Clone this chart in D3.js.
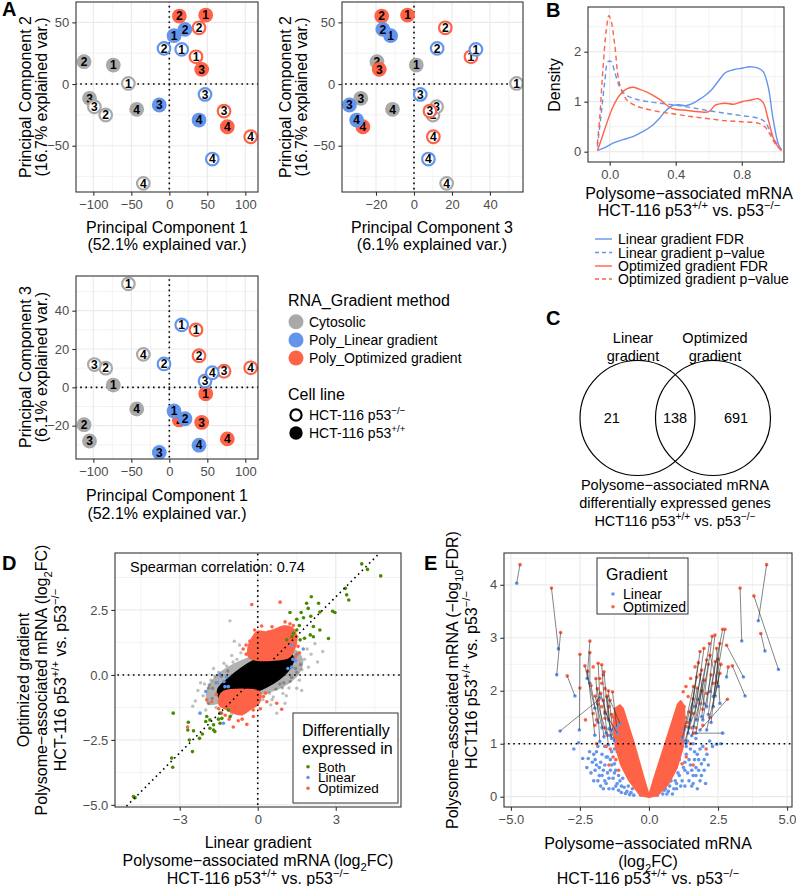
<!DOCTYPE html>
<html><head><meta charset="utf-8">
<script src="https://cdn.jsdelivr.net/npm/d3@7"></script>
<style>body{margin:0;background:#fff} svg text{font-family:"Liberation Sans",Arial,sans-serif}</style>
</head><body><svg id="c" width="796" height="886"></svg>
<script>
// ---------------- DATA ----------------
// Panel A: PCA scores
const pcaMethod = ["Cytosolic","Cytosolic","Cytosolic","Cytosolic","Cytosolic","Cytosolic","Cytosolic","Cytosolic",
  "Poly_Linear gradient","Poly_Linear gradient","Poly_Linear gradient","Poly_Linear gradient","Poly_Linear gradient","Poly_Linear gradient","Poly_Linear gradient","Poly_Linear gradient",
  "Poly_Optimized gradient","Poly_Optimized gradient","Poly_Optimized gradient","Poly_Optimized gradient","Poly_Optimized gradient","Poly_Optimized gradient","Poly_Optimized gradient","Poly_Optimized gradient"];
const pcaCell = ["wt","wt","wt","wt","ko","ko","ko","ko","wt","wt","wt","wt","ko","ko","ko","ko","wt","wt","wt","wt","ko","ko","ko","ko"];
const pcaRep = [1,2,3,4,1,2,3,4,1,2,3,4,1,2,3,4,1,2,3,4,1,2,3,4];
const pcaPC1 = [-73.7,-112.2,-105,-42.9,-53.9,-83.7,-98.6,-34.2, 6.2,20.6,-13.2,39.1,16.3,-7,47,56.6, 47.9,13.2,42.6,76.3,35.1,39.1,72,107.1];
const pcaPC2 = [15.4,18.1,-11.6,-20.5,0.5,-25.1,-18.4,-80.5, 39.2,44.3,-17,-29.2,28.1,28.9,-8.4,-60.8, 55.9,55.1,11.9,-34.6,22.1,45.6,-21.9,-42.7];
const pcaPC3 = [1.2,-19.5,-28,-11.3,54,10,11.9,17.2, -12.3,-16.4,-34,-30.2,32.6,12.2,3.3,7.6, -3.4,-17,-18.3,-26.9,30,16.5,8.4,10.2];
const methodLevels = ["Cytosolic","Poly_Linear gradient","Poly_Optimized gradient"];

// Panel B: densities
const linFdrX = [-0.075,-0.03,0.02,0.08,0.14,0.2,0.26,0.3,0.34,0.38,0.42,0.46,0.5,0.54,0.58,0.62,0.66,0.7,0.75,0.8,0.85,0.9,0.93,0.96,0.99,1.02,1.04];
const linFdrY = [0.02,0.08,0.17,0.24,0.3,0.4,0.53,0.66,0.82,0.92,0.94,0.92,0.96,1.04,1.13,1.25,1.42,1.58,1.64,1.67,1.7,1.67,1.6,1.3,0.65,0.17,0.03];
const linPX = [-0.075,-0.05,-0.03,-0.01,0.01,0.03,0.06,0.1,0.15,0.2,0.3,0.4,0.5,0.6,0.7,0.8,0.9,0.94,0.97,1.0,1.04];
const linPY = [0.1,0.8,1.4,1.8,1.8,1.6,1.3,1.13,1.06,1.02,0.97,0.93,0.88,0.82,0.77,0.72,0.67,0.6,0.42,0.22,0.04];
const optFdrX = [-0.075,-0.05,-0.02,0.02,0.06,0.1,0.14,0.18,0.22,0.3,0.38,0.46,0.54,0.6,0.64,0.7,0.75,0.8,0.85,0.9,0.93,0.96,1.0,1.04];
const optFdrY = [0.02,0.25,0.55,0.9,1.13,1.25,1.29,1.25,1.2,1.05,0.86,0.83,0.8,0.8,0.93,0.97,0.95,1.0,1.03,1.06,0.98,0.65,0.2,0.02];
const optPX = [-0.075,-0.06,-0.04,-0.02,-0.005,0.01,0.03,0.06,0.1,0.15,0.2,0.3,0.4,0.5,0.6,0.7,0.8,0.9,0.94,0.97,1.0,1.04];
const optPY = [0.15,0.7,1.7,2.45,2.72,2.6,2.15,1.35,1.05,0.93,0.87,0.8,0.75,0.7,0.66,0.62,0.6,0.57,0.5,0.35,0.17,0.03];
const bLegend = ["Linear gradient FDR","Linear gradient p\u2212value","Optimized gradient FDR","Optimized gradient p\u2212value"];

// Panel C: Venn counts
const vennCounts = [21,138,691];

// Panel D: scatter
const dBothX = [4.0,4.22,4.73,3.37,3.42,3.5,2.06,1.88,2.34,2.88,2.97,2.39,1.94,1.67,1.24,1.76,2.04,1.5,2.14,2.39,1.5,1.31,1.8,2.02,2.72,1.63,1.12,1.37,2.14,1.6,
  -3.25,-2.67,-2.69,-2.47,-2.63,-2.51,-2.24,-2.13,-2.0,-1.84,-1.7,-1.51,-1.45,-1.38,-1.06,-1.7,-1.84,-1.96,-1.65,-3.31,-3.27,-4.78,-4.72,-1.45,-1.13];
const dBothY = [4.27,4.06,3.81,3.33,3.08,2.88,3.01,2.76,2.76,2.45,2.4,2.42,2.56,2.4,2.4,2.2,2.26,2.14,1.86,1.73,1.73,1.47,1.41,1.54,1.4,1.35,1.35,1.6,1.47,1.9,
  -1.47,-1.82,-2.12,-2.15,-2.5,-2.95,-2.44,-2.27,-1.79,-1.73,-1.92,-1.7,-1.86,-1.67,-1.6,-2.12,-2.05,-1.6,-2.18,-3.2,-3.55,-4.68,-4.72,-1.47,-1.35];
const dLinX = [1.75,1.31,1.35,1.16,1.31,1.45,-1.45,-1.2,-1.26,-2.0,-2.22,-1.32,-1.13,-1.3,-1.55];
const dLinY = [1.0,1.15,0.6,0.25,0.3,0.55,0.01,-0.08,-0.45,-0.64,-1.47,-1.86,-0.45,-0.25,-0.3];
const dOptX = [-0.23,0.86,0.15,0.41,1.05,1.24,1.37,-0.56,-0.44,-0.12,0.79,1.5,0.55,-0.3,1.55,1.6,0.0,0.9,-0.45,1.45,
  -1.96,-1.77,-1.39,-0.94,-0.75,-0.42,-0.17,0.35,0.73,0.92,-2.7,0.22,-0.17,-1.6,-1.5,-1.1,0.3,-0.6,-1.25,0.1];
const dOptY = [2.71,2.8,1.88,1.65,2.04,1.97,1.9,1.0,0.8,1.73,1.54,1.47,1.85,1.3,1.1,0.85,1.55,1.8,1.15,0.7,
  -0.96,-1.03,-1.47,-2.0,-1.76,-1.9,-1.6,-1.03,-1.09,-1.32,-2.0,-0.83,-1.35,-0.75,-1.3,-1.7,-0.7,-1.7,-1.55,-1.3];
const dOtherX = [-1.07,-0.9,-0.7,-0.65,-0.8,-1.2,-1.5,-1.6,-1.9,-2.1,-1.9,-1.6,-1.8,-2.3,-1.3,-1.7,0.45,0.7,1.0,1.3,1.5,1.65,1.8,1.9,2.05,1.5,1.6,1.5,1.69,2.2,0.2,0.5,0.6,-1.0,-2.0,-2.4,2.3,0.97,1.05,0.73,-1.87,-1.74,-2.5,1.1,1.95,-1.0,-0.2,0.9,1.2,
  -1.55,-1.75,-2.05,-1.4,-1.15,0.85,1.25,1.45,1.7,1.35,-0.95,-1.25,0.55,0.95,-2.2,2.5,-1.65];
const dOtherY = [2.08,1.3,1.15,0.85,0.6,0.35,0.1,-0.3,-0.5,-0.8,-1.1,-1.25,-0.2,-0.6,0.45,0.25,-0.7,-0.55,-0.3,-0.1,0.1,0.4,0.6,1.0,0.8,0.8,-0.2,-0.51,-0.6,1.2,-0.95,-1.15,-0.85,-1.5,-1.35,-1.0,0.5,-0.71,-1.09,-1.47,-0.38,-0.51,-1.2,-0.8,0.3,0.75,-0.85,0.85,-0.5,
  -0.65,-0.9,-0.35,-0.05,0.15,-0.35,-0.25,0.25,0.2,0.55,0.5,-1.05,-0.95,-0.5,-0.3,0.9,-0.05];
const dHaloX = [-1.9,-1.3,-0.5,0.4,1.1,1.6,1.75,1.5,0.8,0.0,-0.8,-1.4,-1.9,-2.0];
const dHaloY = [-1.15,-1.05,-0.85,-0.7,-0.4,0.05,0.55,0.95,1.0,0.8,0.5,0.15,-0.4,-0.85];
const dCoreX = [-1.4,-0.9,-0.3,0.3,0.8,1.2,1.35,1.1,0.5,-0.1,-0.6,-1.1,-1.5];
const dCoreY = [-0.95,-0.85,-0.7,-0.45,-0.15,0.25,0.65,0.85,0.8,0.55,0.25,-0.15,-0.55];
const dOptUpX = [-0.3,1.15,1.3,1.45,1.45,1.3,1.0,0.6,0.3,0.0,-0.2,-0.35];
const dOptUpY = [0.68,0.68,0.85,1.2,1.55,1.8,1.85,1.7,1.62,1.65,1.4,1.0];
const dOptLoX = [-1.3,0.05,0.1,0.0,-0.3,-0.6,-0.9,-1.2,-1.45,-1.45];
const dOptLoY = [-0.66,-0.66,-0.8,-1.1,-1.3,-1.5,-1.45,-1.3,-1.15,-0.85];
const spearman = 0.74;
const dLegend = ["Both","Linear","Optimized"];

// Panel E: volcano (paired genes: same index = same gene)
const ePairLinX = [-4.79,-3.28,-3.34,-2.68,-3.22,-2.52,-2.24,-2.14,-1.96,-1.78,-1.59,-1.47,-1.32,-1.17,-1.05,-1.78,-1.63,-1.35,-1.96,-1.47,
  -1.25,-1.55,-1.15,-1.4,-1.85,-1.7,
  3.36,4.69,3.96,4.2,3.42,3.48,2.67,2.33,2.21,2.09,1.91,1.73,1.61,1.42,1.34,2.33,2.57,2.81,2.51,1.79,1.67,1.49,1.27,1.85,2.09,
  1.3,1.55,1.95,2.15,1.7,1.45,2.25,1.2,2.0,2.4];
const ePairLinY = [4.03,2.79,2.3,1.9,1.24,1.26,2.23,2.14,1.67,1.86,1.57,1.45,1.26,1.32,1.38,1.04,1.13,1.1,1.16,0.98,
  1.05,1.2,1.2,1.15,1.4,1.3,
  2.94,2.4,3.32,2.75,2.26,1.9,1.2,1.89,1.98,1.7,1.51,1.45,1.32,1.2,1.01,1.7,1.76,2.26,2.08,1.83,1.7,1.45,1.26,1.26,1.26,
  1.05,1.15,1.45,1.55,1.2,1.3,1.4,1.1,1.75,1.9];
const ePairOptX = [-4.67,-3.53,-3.2,-2.96,-1.84,-2.5,-2.14,-2.14,-2.32,-1.84,-1.71,-1.63,-1.47,-1.32,-1.41,-1.92,-1.87,-1.53,-2.22,-1.66,
  -1.75,-1.85,-1.6,-1.5,-2.1,-1.95,
  3.3,3.8,4.26,4.05,2.81,3.02,1.61,2.75,2.67,2.39,2.29,2.19,1.99,1.85,1.79,2.57,2.45,2.87,2.21,2.09,1.91,1.73,1.61,2.84,2.57,
  1.9,2.0,2.25,2.4,2.15,1.75,2.5,1.6,1.85,2.6];
const ePairOptY = [4.38,3.94,3.1,2.28,1.82,2.69,2.94,2.72,2.47,2.52,2.49,2.36,2.0,1.98,1.82,2.23,2.04,1.89,2.37,1.82,
  1.95,1.75,1.6,1.9,2.1,1.9,
  3.94,3.79,4.38,3.08,2.86,2.47,1.2,3.16,3.16,3.05,3.03,2.89,2.8,2.74,2.53,2.89,2.8,2.45,2.67,2.58,2.39,2.26,2.08,1.84,2.33,
  2.0,2.2,2.3,2.55,2.5,2.05,2.6,1.85,2.3,2.5];
const eLinOnlyX = [-2.72,-2.2,-2.05,-1.95,-2.1,-1.8,-1.7,-1.85,-1.6,-1.5,-1.4,-1.55,-1.3,-1.2,-1.1,-1.0,-0.85,-0.7,-1.45,-1.65,-1.35,-1.25,-1.7,-1.9,-2.4,-1.2,-1.05,-0.9,-0.55,-1.75,-2.0,-1.6,-1.15,-1.95,-2.55,-1.45,
  -0.6,-0.75,-0.95,-1.1,-1.25,-1.35,-1.5,-1.6,-1.8,-1.9,-2.0,-1.75,-1.45,-1.3,-1.15,-0.8,-1.0,-1.65,-1.55,-1.4,-2.25,-2.15,-1.85,-1.25,-0.65,
  0.5,0.7,0.9,1.0,1.2,1.3,1.4,1.5,1.6,1.7,1.8,1.9,2.0,1.85,1.55,1.25,1.1,1.35,1.5,1.65,1.2,0.8,1.05,2.1,1.95,2.45,0.6,1.75,2.05,1.4,1.7,2.2,2.6,0.3,-0.3,
  0.55,0.75,0.95,1.1,1.15,1.3,1.45,1.6,1.7,1.8,1.9,2.0,1.75,1.45,1.3,1.0,0.85,1.55,1.65,2.15,1.85,1.6,1.35,2.3,0.65];
const eLinOnlyY = [0.9,0.72,0.65,0.5,0.45,0.55,0.4,0.3,0.6,0.75,0.5,0.25,0.35,0.2,0.12,0.08,0.06,0.04,0.15,0.15,0.85,0.62,0.8,0.85,0.72,0.5,0.3,0.18,0.03,0.2,0.3,0.95,0.85,0.7,1.02,1.28,
  0.15,0.2,0.35,0.4,0.45,0.6,0.45,0.3,0.4,0.6,0.8,0.65,0.35,0.15,0.25,0.1,0.2,0.5,0.75,0.7,0.55,0.85,0.95,0.9,0.08,
  0.05,0.1,0.15,0.25,0.3,0.2,0.45,0.6,0.4,0.55,0.7,0.62,0.5,0.3,0.2,0.55,0.7,0.8,0.9,0.85,0.95,0.3,0.45,0.8,0.95,0.99,0.15,0.15,0.25,1.05,1.1,1.05,1.0,0.03,0.03,
  0.12,0.2,0.3,0.4,0.2,0.5,0.3,0.25,0.4,0.5,0.4,0.7,0.8,0.7,0.65,0.15,0.05,0.5,0.7,0.6,0.9,1.0,0.95,0.95,0.05];
const eOptOnlyX = [1.67,1.51,1.34,1.24,1.42,1.27,1.12,1.18,1.37,1.61,1.85,2.09,2.33,2.07,1.12,1.5,1.35,1.6,1.2,1.55,1.95,2.2,1.45,1.3,
  2.45,1.95,2.6,1.4,1.7,1.25,
  -2.02,-1.78,-1.71,-1.59,-1.71,-1.9,-1.96,-2.02,-1.59,-1.5,-1.17,-1.9,-1.4,-1.3,-1.45,-1.2,-1.55,-1.1,-1.3,-1.2,-1.45,-1.6,-2.3,-2.5,
  -1.65,-1.35,-1.25];
const eOptOnlyY = [2.45,2.23,2.08,1.98,1.89,1.7,1.45,1.2,1.32,1.57,1.76,1.95,2.14,0.9,1.13,1.0,0.75,0.6,0.62,1.3,1.35,1.5,1.6,1.5,
  2.15,1.65,2.5,1.4,1.3,1.25,
  2.45,2.23,2.14,2.04,1.7,1.45,1.35,1.57,1.48,1.16,1.16,1.0,0.9,0.75,0.6,0.7,0.95,0.5,1.5,1.35,1.7,1.3,1.45,2.05,
  2.3,1.55,1.2];
const eArmLX = [0,-0.3,-0.7,-1.0,-1.2,-1.28,-1.22,-1.05,-0.95,-0.55,-0.2];
const eArmLY = [0,0.03,0.3,0.6,0.95,1.35,1.66,1.72,1.66,1.0,0.35];
const eArmRX = [0,0.3,0.7,1.0,1.2,1.28,1.27,1.15,1.05,0.6,0.2];
const eArmRY = [0,0.03,0.25,0.55,0.9,1.3,1.7,1.8,1.74,1.0,0.35];
const eLegend = ["Linear","Optimized"];

// ---------------- DRAWING ----------------
const svg = d3.select('#c');
const FONT = '"Liberation Sans", Arial, sans-serif';
const GREY = '#A9A9A9', BLUE = '#6495ED', RED = '#FF6347', GREEN = '#458B00';
const methodColor = d3.scaleOrdinal().domain(methodLevels).range([GREY, BLUE, RED]);
const TICK = 13, TITLE = 16;

let clipN = 0;
function panel(o) {
  const x = d3.scaleLinear().domain(o.xd).range([o.l, o.r]);
  const y = d3.scaleLinear().domain(o.yd).range([o.b, o.t]);
  const g = svg.append('g');
  g.append('rect').attr('x', o.l).attr('y', o.t).attr('width', o.r - o.l).attr('height', o.b - o.t).attr('fill', '#fff');
  const grid = (vals, vert, w) => g.selectAll(null).data(vals).join('line')
    .attr('x1', d => vert ? x(d) : o.l).attr('x2', d => vert ? x(d) : o.r)
    .attr('y1', d => vert ? o.t : y(d)).attr('y2', d => vert ? o.b : y(d))
    .attr('stroke', '#EBEBEB').attr('stroke-width', w);
  grid(o.xMinor, true, 0.6); grid(o.yMinor, false, 0.6);
  grid(o.xMajor, true, 1.2); grid(o.yMajor, false, 1.2);
  const id = 'clip' + (clipN++);
  svg.append('clipPath').attr('id', id).append('rect').attr('x', o.l).attr('y', o.t).attr('width', o.r - o.l).attr('height', o.b - o.t);
  const plot = g.append('g').attr('clip-path', `url(#${id})`);
  const style = a => {
    a.select('.domain').remove();
    a.attr('font-family', FONT).attr('font-size', TICK);
    a.selectAll('line').attr('stroke', '#333').attr('stroke-width', 1.1);
    a.selectAll('text').attr('fill', '#4D4D4D');
  };
  svg.append('g').attr('transform', `translate(0,${o.b})`)
    .call(d3.axisBottom(x).tickValues(o.xMajor).tickSize(3.7).tickPadding(4).tickFormat(o.xFmt)).call(style);
  svg.append('g').attr('transform', `translate(${o.l},0)`)
    .call(d3.axisLeft(y).tickValues(o.yMajor).tickSize(3.7).tickPadding(3).tickFormat(o.yFmt)).call(style);
  return {x, y, plot, o, border() {
    svg.append('rect').attr('x', o.l).attr('y', o.t).attr('width', o.r - o.l).attr('height', o.b - o.t)
      .attr('fill', 'none').attr('stroke', '#333').attr('stroke-width', 1.1);
  }};
}

// rich text: parts = [str] or [str,'sup'|'sub']
function rich(parent, cx, cy, parts, fs, opt = {}) {
  const rot = !!opt.rotate;
  const bx = rot ? cx + 0.36 * fs : cx, by = rot ? cy : cy + 0.36 * fs;
  const t = parent.append('text').attr('x', bx).attr('y', by)
    .attr('text-anchor', opt.anchor || 'middle').attr('font-size', fs)
    .attr('fill', opt.fill || '#000').attr('font-weight', opt.weight || 'normal');
  if (rot) t.attr('transform', `rotate(-90,${bx},${by})`);
  let shift = 0;
  parts.forEach(p => {
    const [s, type] = Array.isArray(p) ? p : [p, 'n'];
    const target = type === 'sup' ? -0.42 * fs : type === 'sub' ? 0.3 * fs : 0;
    const ts = t.append('tspan').text(s).attr('dy', target - shift);
    if (type !== 'n') ts.attr('font-size', fs * 0.7);
    shift = target;
  });
  return t;
}
const fmtInt = d3.format('d'), fmt1 = d3.format('.1f');
const hctParts = ['HCT-116 p53', ['+/+', 'sup'], ' vs. p53', ['\u2212/\u2212', 'sup']];

function dotted(P, x1, y1, x2, y2) {
  P.plot.append('line').attr('x1', P.x(x1)).attr('y1', P.y(y1)).attr('x2', P.x(x2)).attr('y2', P.y(y2))
    .attr('stroke', '#000').attr('stroke-width', 1.6).attr('stroke-dasharray', '1.6,3.6');
}

// ---- Panel A ----
const drawOrder = {"Cytosolic": 0, "Poly_Optimized gradient": 1, "Poly_Linear gradient": 2};
function pcaPanel(P, xv, yv) {
  dotted(P, 0, -1000, 0, 1000); dotted(P, -1000, 0, 1000, 0);
  const idx = d3.range(pcaRep.length).sort((a, b) => drawOrder[pcaMethod[a]] - drawOrder[pcaMethod[b]] || a - b);
  const gg = P.plot.selectAll(null).data(idx).join('g')
    .attr('transform', i => `translate(${P.x(xv[i])},${P.y(yv[i])})`);
  gg.append('circle').attr('r', i => pcaCell[i] === 'ko' ? 6.3 : 7.4)
    .attr('fill', i => pcaCell[i] === 'ko' ? '#fff' : methodColor(pcaMethod[i]))
    .attr('stroke', i => pcaCell[i] === 'ko' ? methodColor(pcaMethod[i]) : 'none')
    .attr('stroke-width', 2.2);
  gg.append('text').text(i => pcaRep[i]).attr('text-anchor', 'middle').attr('y', 4.2)
    .attr('font-size', 12).attr('font-weight', 'bold').attr('fill', '#000');
  P.border();
}
const pc1Ticks = [-100, -50, 0, 50, 100], pc1Minor = [-75, -25, 25, 75];
const pc2Ticks = [-50, 0, 50], pc2Minor = [-75, -25, 25];
const pc3Ticks = [-20, 0, 20, 40], pc3Minor = [-30, -10, 10, 30, 50];

const A1 = panel({l: 76, r: 258, t: 2, b: 192, xd: [-122.8, 116.7], yd: [-87.5, 66.5],
  xMajor: pc1Ticks, xMinor: pc1Minor, yMajor: pc2Ticks, yMinor: pc2Minor, xFmt: fmtInt, yFmt: fmtInt});
pcaPanel(A1, pcaPC1, pcaPC2);
const A2 = panel({l: 342, r: 523, t: 2, b: 192, xd: [-37.9, 57.4], yd: [-87.5, 66.5],
  xMajor: pc3Ticks, xMinor: pc3Minor, yMajor: pc2Ticks, yMinor: pc2Minor, xFmt: fmtInt, yFmt: fmtInt});
pcaPanel(A2, pcaPC3, pcaPC2);
const A3 = panel({l: 76, r: 258, t: 276, b: 459, xd: [-122.8, 116.7], yd: [-37.4, 58.1],
  xMajor: pc1Ticks, xMinor: pc1Minor, yMajor: pc3Ticks, yMinor: pc3Minor, xFmt: fmtInt, yFmt: fmtInt});
pcaPanel(A3, pcaPC1, pcaPC3);

rich(svg, 167, 227, ['Principal Component 1'], TITLE);
rich(svg, 167, 244, ['(52.1% explained var.)'], TITLE);
rich(svg, 25, 97, ['Principal Component 2'], TITLE, {rotate: true});
rich(svg, 41, 97, ['(16.7% explained var.)'], TITLE, {rotate: true});
rich(svg, 432, 227, ['Principal Component 3'], TITLE);
rich(svg, 432, 244, ['(6.1% explained var.)'], TITLE);
rich(svg, 285, 97, ['Principal Component 2'], TITLE, {rotate: true});
rich(svg, 301, 97, ['(16.7% explained var.)'], TITLE, {rotate: true});
rich(svg, 167, 495, ['Principal Component 1'], TITLE);
rich(svg, 167, 513, ['(52.1% explained var.)'], TITLE);
rich(svg, 25, 367, ['Principal Component 3'], TITLE, {rotate: true});
rich(svg, 41, 367, ['(6.1% explained var.)'], TITLE, {rotate: true});

// A legend
rich(svg, 288, 300, ['RNA_Gradient method'], TITLE, {anchor: 'start'});
const legRows = [321.7, 340, 358];
methodLevels.forEach((m, i) => {
  svg.append('circle').attr('cx', 296).attr('cy', legRows[i]).attr('r', 7.5).attr('fill', methodColor(m));
  rich(svg, 309, legRows[i], [m], 14, {anchor: 'start'});
});
rich(svg, 288, 394, ['Cell line'], TITLE, {anchor: 'start'});
svg.append('circle').attr('cx', 296).attr('cy', 415).attr('r', 5.6).attr('fill', '#fff').attr('stroke', '#000').attr('stroke-width', 2.2);
rich(svg, 309, 415, ['HCT-116 p53', ['\u2212/\u2212', 'sup']], 14, {anchor: 'start'});
svg.append('circle').attr('cx', 296).attr('cy', 433).attr('r', 6.7).attr('fill', '#000');
rich(svg, 309, 433, ['HCT-116 p53', ['+/+', 'sup']], 14, {anchor: 'start'});

// ---- Panel B ----
const B = panel({l: 588, r: 784, t: 7, b: 162, xd: [-0.1315, 1.056], yd: [-0.206, 2.894],
  xMajor: [0, 0.4, 0.8], xMinor: [0.2, 0.6, 1.0], yMajor: [0, 1, 2], yMinor: [0.5, 1.5, 2.5], xFmt: fmt1, yFmt: fmtInt});
const bSeries = [
  {xs: linFdrX, ys: linFdrY, c: BLUE, dash: null},
  {xs: linPX, ys: linPY, c: BLUE, dash: '5,3.5'},
  {xs: optFdrX, ys: optFdrY, c: RED, dash: null},
  {xs: optPX, ys: optPY, c: RED, dash: '5,3.5'}];
const bLine = d3.line().curve(d3.curveCatmullRom.alpha(0.5));
bSeries.forEach(s => {
  B.plot.append('path').attr('d', bLine(s.xs.map((v, i) => [B.x(v), B.y(s.ys[i])])))
    .attr('fill', 'none').attr('stroke', s.c).attr('stroke-width', 1.4).attr('stroke-dasharray', s.dash);
});
B.border();
rich(svg, 554, 85, ['Density'], TITLE, {rotate: true});
rich(svg, 689, 193, ['Polysome\u2212associated mRNA'], TITLE);
rich(svg, 689, 210, hctParts, TITLE);
const bRows = [239, 252.5, 266, 279];
bSeries.forEach((s, i) => {
  svg.append('line').attr('x1', 595).attr('x2', 612).attr('y1', bRows[i]).attr('y2', bRows[i])
    .attr('stroke', s.c).attr('stroke-width', 1.4).attr('stroke-dasharray', s.dash ? '4,3' : null);
  rich(svg, 618, bRows[i], [bLegend[i]], 14, {anchor: 'start'});
});

// ---- Panel C ----
svg.append('circle').attr('cx', 637.5).attr('cy', 418).attr('r', 57.5).attr('fill', 'none').attr('stroke', '#000').attr('stroke-width', 1.2);
svg.append('circle').attr('cx', 713).attr('cy', 418).attr('r', 57.5).attr('fill', 'none').attr('stroke', '#000').attr('stroke-width', 1.2);
[[611.7, vennCounts[0]], [675, vennCounts[1]], [736, vennCounts[2]]].forEach(([x, v]) => rich(svg, x, 418, [String(v)], 14.5));
rich(svg, 633, 338, ['Linear'], 14.5); rich(svg, 633, 356, ['gradient'], 14.5);
rich(svg, 715, 338, ['Optimized'], 14.5); rich(svg, 715, 356, ['gradient'], 14.5);
rich(svg, 675, 485, ['Polysome\u2212associated mRNA'], 14.5);
rich(svg, 675, 503, ['differentially expressed genes'], 14.5);
rich(svg, 675, 521, ['HCT116 p53', ['+/+', 'sup'], ' vs. p53', ['\u2212/\u2212', 'sup']], 14.5);

// ---- Panel D ----
const D = panel({l: 115, r: 401, t: 553, b: 807, xd: [-5.49, 5.51], yd: [-5.08, 4.69],
  xMajor: [-3, 0, 3], xMinor: [-4.5, -1.5, 1.5, 4.5], yMajor: [-5, -2.5, 0, 2.5], yMinor: [-3.75, -1.25, 1.25, 3.75],
  xFmt: fmtInt, yFmt: fmt1});
const blob = d3.line().curve(d3.curveCatmullRomClosed.alpha(0.5));
const poly = (P, xs, ys) => blob(xs.map((v, i) => [P.x(v), P.y(ys[i])]));
D.plot.selectAll(null).data(dOtherX).join('circle').attr('cx', d => D.x(d)).attr('cy', (d, i) => D.y(dOtherY[i]))
  .attr('r', 1.7).attr('fill', '#000').attr('fill-opacity', 0.25);
D.plot.append('path').attr('d', poly(D, dHaloX, dHaloY)).attr('fill', '#000').attr('fill-opacity', 0.3);
D.plot.append('path').attr('d', poly(D, dCoreX, dCoreY)).attr('fill', '#000').attr('stroke', '#000').attr('stroke-width', 3);
D.plot.append('path').attr('d', poly(D, dOptUpX, dOptUpY)).attr('fill', RED).attr('stroke', RED).attr('stroke-width', 3);
D.plot.append('path').attr('d', poly(D, dOptLoX, dOptLoY)).attr('fill', RED).attr('stroke', RED).attr('stroke-width', 3);
const dPts = (xs, ys, c) => D.plot.selectAll(null).data(xs).join('circle')
  .attr('cx', d => D.x(d)).attr('cy', (d, i) => D.y(ys[i])).attr('r', 1.8).attr('fill', c);
dPts(dOptX, dOptY, RED);
dPts(dLinX, dLinY, BLUE);
dPts(dBothX, dBothY, GREEN);
dotted(D, -10, -10, 10, 10); dotted(D, 0, -10, 0, 10); dotted(D, -10, 0, 10, 0);
D.border();
rich(svg, 130, 567, ['Spearman correlation: ' + spearman.toFixed(2)], 14.5, {anchor: 'start'});
// D legend
svg.append('rect').attr('x', 293).attr('y', 713).attr('width', 105).attr('height', 90).attr('fill', '#fff').attr('stroke', '#333').attr('stroke-width', 1);
rich(svg, 302, 730, ['Differentially'], TITLE, {anchor: 'start'});
rich(svg, 302, 748, ['expressed in'], TITLE, {anchor: 'start'});
const dLegRows = [766.7, 777.5, 788.3], dLegCol = [GREEN, BLUE, RED];
dLegend.forEach((t, i) => {
  svg.append('circle').attr('cx', 308).attr('cy', dLegRows[i]).attr('r', 1.8).attr('fill', dLegCol[i]);
  rich(svg, 318, dLegRows[i], [t], 13.5, {anchor: 'start'});
});
rich(svg, 23, 680, ['Optimized gradient'], TITLE, {rotate: true});
rich(svg, 41, 680, ['Polysome\u2212associated mRNA (log', ['2', 'sub'], 'FC)'], TITLE, {rotate: true});
rich(svg, 60, 680, hctParts, TITLE, {rotate: true});
rich(svg, 258, 842, ['Linear gradient'], TITLE);
rich(svg, 258, 860, ['Polysome\u2212associated mRNA (log', ['2', 'sub'], 'FC)'], TITLE);
rich(svg, 258, 878, hctParts, TITLE);

// ---- Panel E ----
const E = panel({l: 504, r: 792, t: 553, b: 807, xd: [-5.25, 5.18], yd: [-0.194, 4.6],
  xMajor: [-5, -2.5, 0, 2.5, 5], xMinor: [-3.75, -1.25, 1.25, 3.75], yMajor: [0, 1, 2, 3, 4], yMinor: [0.5, 1.5, 2.5, 3.5, 4.5],
  xFmt: fmt1, yFmt: fmtInt});
const ePts = (xs, ys, c) => E.plot.selectAll(null).data(xs).join('circle')
  .attr('cx', d => E.x(d)).attr('cy', (d, i) => E.y(ys[i])).attr('r', 1.8).attr('fill', c);
ePts(eLinOnlyX, eLinOnlyY, BLUE);
const arm = d3.line().curve(d3.curveLinearClosed);
[[eArmLX, eArmLY], [eArmRX, eArmRY]].forEach(([xs, ys]) => {
  E.plot.append('path').attr('d', arm(xs.map((v, i) => [E.x(v), E.y(ys[i])])))
    .attr('fill', RED).attr('stroke', RED).attr('stroke-width', 2.5).attr('stroke-linejoin', 'round');
});
ePts(eOptOnlyX, eOptOnlyY, RED);
ePts(ePairLinX, ePairLinY, BLUE);
ePts(ePairOptX, ePairOptY, RED);
E.plot.selectAll(null).data(ePairLinX).join('line')
  .attr('x1', d => E.x(d)).attr('y1', (d, i) => E.y(ePairLinY[i]))
  .attr('x2', (d, i) => E.x(ePairOptX[i])).attr('y2', (d, i) => E.y(ePairOptY[i]))
  .attr('stroke', '#333').attr('stroke-width', 0.6);
dotted(E, -10, 1, 10, 1);
E.border();
svg.append('rect').attr('x', 597).attr('y', 558).attr('width', 91).attr('height', 56).attr('fill', '#fff').attr('stroke', '#333').attr('stroke-width', 1);
rich(svg, 606, 574, ['Gradient'], TITLE, {anchor: 'start'});
[[594, BLUE], [606.7, RED]].forEach(([yy, c], i) => {
  svg.append('circle').attr('cx', 613).attr('cy', yy).attr('r', 1.8).attr('fill', c);
  rich(svg, 623, yy, [eLegend[i]], 14, {anchor: 'start'});
});
rich(svg, 452, 680, ['Polysome\u2212associated mRNA (\u2212log', ['10', 'sub'], 'FDR)'], TITLE, {rotate: true});
rich(svg, 471, 680, ['HCT116 p53', ['+/+', 'sup'], ' vs. p53', ['\u2212/\u2212', 'sup']], TITLE, {rotate: true});
rich(svg, 648, 843, ['Polysome\u2212associated mRNA'], TITLE);
rich(svg, 648, 861, ['(log', ['2', 'sub'], 'FC)'], TITLE);
rich(svg, 648, 878, hctParts, TITLE);

// panel letters
[['A', 2, 16], ['B', 546, 17], ['C', 546, 325], ['D', 2, 570], ['E', 424, 570]].forEach(([t, x, y]) => {
  svg.append('text').attr('x', x).attr('y', y).attr('font-size', 20).attr('font-weight', 'bold').text(t);
});
</script></body></html>
